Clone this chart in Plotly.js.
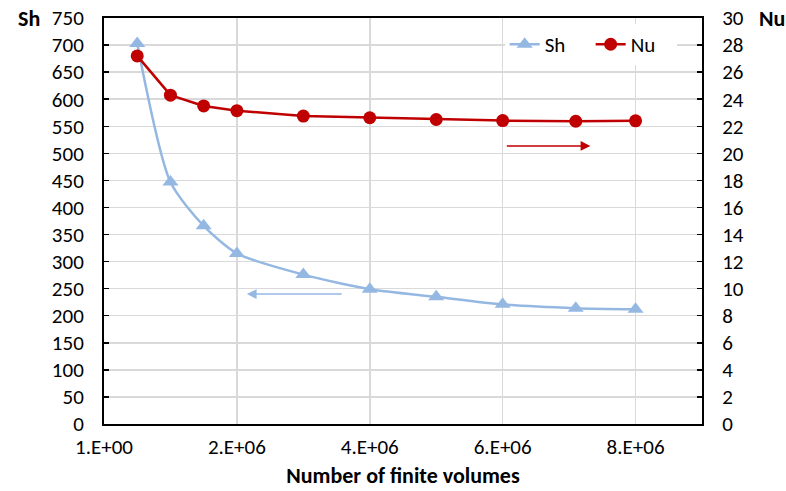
<!DOCTYPE html>
<html>
<head>
<meta charset="utf-8">
<script src="https://cdn.plot.ly/plotly-3.0.1.min.js"></script>
<style>
  html, body { margin: 0; padding: 0; background: #fff; }
  #chart { width: 786px; height: 491px; }
</style>
</head>
<body>
<div id="chart"></div>
<script>
// Grid-independence study: Sherwood and Nusselt numbers vs. mesh size
const volumes = [0.5e6, 1e6, 1.5e6, 2e6, 3e6, 4e6, 5e6, 6e6, 7.1e6, 8e6];
const sh = [703, 447, 366, 315, 276, 249, 235, 221, 214, 212];
const nu = [27.2, 24.3, 23.5, 23.15, 22.75, 22.63, 22.5, 22.42, 22.37, 22.4];

const xTickVals = [0, 2e6, 4e6, 6e6, 8e6];
const xTickText = ['1.E+00', '2.E+06', '4.E+06', '6.E+06', '8.E+06'];
const shTicks = [0, 50, 100, 150, 200, 250, 300, 350, 400, 450, 500, 550, 600, 650, 700, 750];
const nuTicks = [0, 2, 4, 6, 8, 10, 12, 14, 16, 18, 20, 22, 24, 26, 28, 30];

const FONT = 'Carlito, Calibri, Lato, sans-serif';
const BLUE = '#95B8E3';
const RED = '#C00000';

const traces = [
  {
    x: volumes, y: sh, name: 'Sh', type: 'scatter', mode: 'lines+markers',
    line: { color: BLUE, width: 2.5, shape: 'spline', smoothing: 0.7 },
    marker: { symbol: 'triangle-up', size: 14, color: BLUE },
    yaxis: 'y'
  },
  {
    x: volumes, y: nu, name: 'Nu', type: 'scatter', mode: 'lines+markers',
    line: { color: RED, width: 2.5 },
    marker: { symbol: 'circle', size: 13, color: RED },
    yaxis: 'y2'
  }
];

const layout = {
  width: 786, height: 491,
  margin: { l: 104, r: 84, t: 18, b: 67 },
  paper_bgcolor: '#fff', plot_bgcolor: '#fff',
  font: { family: FONT, size: 21, color: '#000' },
  showlegend: true,
  legend: {
    orientation: 'h', x: 0.67, xanchor: 'left', y: 0.985, yanchor: 'top',
    bgcolor: '#fff', font: { family: FONT, size: 21, color: '#000' },
    itemwidth: 30, tracegroupgap: 0, entrywidth: 41, entrywidthmode: 'pixels'
  },
  xaxis: {
    range: [0, 9e6], tickvals: xTickVals, ticktext: xTickText,
    showgrid: true, gridcolor: '#D9D9D9', gridwidth: 1.5,
    showline: true, linecolor: '#000', linewidth: 2, mirror: true,
    ticks: '', zeroline: false, ticklabelstandoff: 3,
    title: { text: '<b>Number of finite volumes</b>', font: { family: FONT, size: 22 }, standoff: 8 }
  },
  yaxis: {
    range: [0, 750], tickvals: shTicks,
    showgrid: true, gridcolor: '#D9D9D9', gridwidth: 1.5,
    showline: true, linecolor: '#000', linewidth: 2,
    ticks: 'inside', ticklen: 5, tickwidth: 1.5, tickcolor: '#000',
    zeroline: false, ticklabelstandoff: 14
  },
  yaxis2: {
    range: [0, 30], tickvals: nuTicks, overlaying: 'y', side: 'right',
    showgrid: false, showline: true, linecolor: '#000', linewidth: 2,
    ticks: 'inside', ticklen: 5, tickwidth: 1.5, tickcolor: '#000',
    zeroline: false, ticklabelstandoff: 14
  },
  annotations: [
    { xref: 'paper', yref: 'paper', x: -0.104, y: 1.0, xanchor: 'right', yanchor: 'middle',
      text: '<b>Sh</b>', showarrow: false, font: { family: FONT, size: 22 } },
    { xref: 'paper', yref: 'paper', x: 1.092, y: 1.0, xanchor: 'left', yanchor: 'middle',
      text: '<b>Nu</b>', showarrow: false, font: { family: FONT, size: 22 } },
    // direction markers: Nu reads on the right axis, Sh on the left axis
    { xref: 'x', yref: 'y2', x: 7.32e6, y: 20.55, axref: 'x', ayref: 'y2', ax: 6.04e6, ay: 20.55,
      text: '', showarrow: true, arrowhead: 2, arrowsize: 1.3, arrowwidth: 1.5, arrowcolor: RED, standoff: 0 },
    { xref: 'x', yref: 'y', x: 2.15e6, y: 240, axref: 'x', ayref: 'y', ax: 3.6e6, ay: 240,
      text: '', showarrow: true, arrowhead: 2, arrowsize: 1.3, arrowwidth: 1.5, arrowcolor: BLUE, standoff: 0 }
  ]
};

Plotly.newPlot('chart', traces, layout, { displayModeBar: false, staticPlot: true });
</script>
</body>
</html>
